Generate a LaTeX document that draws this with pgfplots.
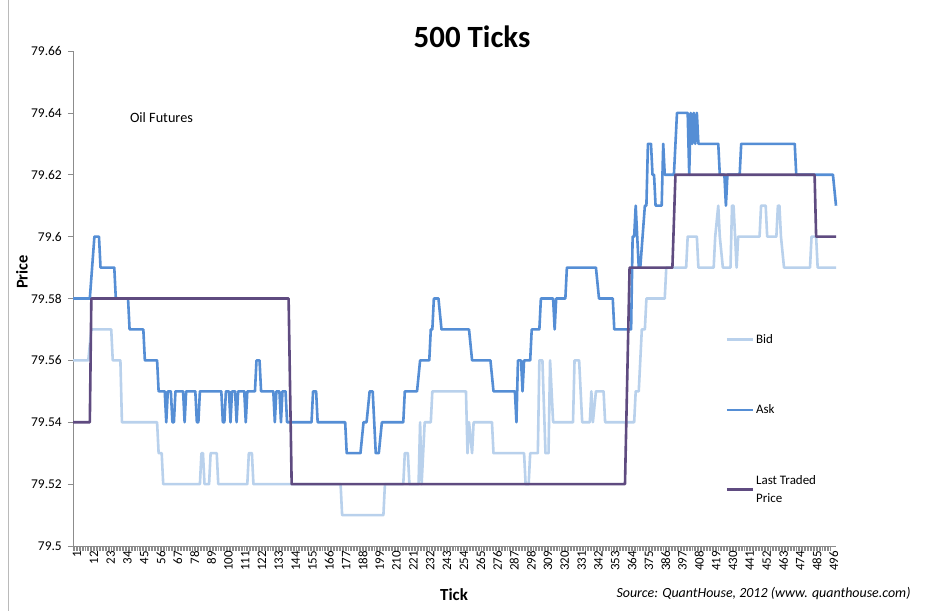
\documentclass[border=0pt]{standalone}
\usepackage{pgfplots}
\pgfplotsset{compat=1.18}
\usepackage{fontspec}
\setmainfont{Carlito}
\definecolor{bidc}{HTML}{B9D1EC}
\definecolor{askc}{HTML}{558ED5}
\definecolor{lastc}{HTML}{5F4B80}
\definecolor{axc}{HTML}{8C8C8C}

\pgfplotstableread{
x y
1 79.56
11 79.56
13 79.57
26 79.57
27 79.56
32 79.56
33 79.54
56 79.54
57 79.53
59 79.53
60 79.52
84 79.52
85 79.53
86 79.53
87 79.52
90 79.52
91 79.53
95 79.53
96 79.52
115 79.52
116 79.53
118 79.53
119 79.52
176 79.52
177 79.51
204 79.51
205 79.52
217 79.52
218 79.53
220 79.53
221 79.52
227 79.52
228 79.54
229 79.52
231 79.54
235 79.54
236 79.55
258 79.55
259 79.53
260 79.54
262 79.53
263 79.54
275 79.54
276 79.53
296 79.53
297 79.52
299 79.52
300 79.53
305 79.53
306 79.56
308 79.56
310 79.53
312 79.53
313 79.56
315 79.54
328 79.54
329 79.56
332 79.56
334 79.54
339 79.54
340 79.55
341 79.54
343 79.55
348 79.55
349 79.54
368 79.54
369 79.55
371 79.55
373 79.57
375 79.57
376 79.58
388 79.58
389 79.59
402 79.59
403 79.60
409 79.60
410 79.59
420 79.59
421 79.60
423 79.61
424 79.60
426 79.59
431 79.59
432 79.61
433 79.61
435 79.59
436 79.60
450 79.60
451 79.61
454 79.61
455 79.60
461 79.60
462 79.61
463 79.61
464 79.60
466 79.59
483 79.59
484 79.60
487 79.60
488 79.59
500 79.59
}\bidtable

\pgfplotstableread{
x y
1 79.58
12 79.58
15 79.60
18 79.60
19 79.59
28 79.59
29 79.58
37 79.58
38 79.57
47 79.57
48 79.56
56 79.56
57 79.55
61 79.55
62 79.54
63 79.55
65 79.55
66 79.54
67 79.54
68 79.55
73 79.55
74 79.54
75 79.55
81 79.55
82 79.54
83 79.54
84 79.55
98 79.55
99 79.54
100 79.54
101 79.55
103 79.55
104 79.54
105 79.55
107 79.55
108 79.54
109 79.55
113 79.55
114 79.54
115 79.55
120 79.55
121 79.56
123 79.56
124 79.55
132 79.55
133 79.54
134 79.55
136 79.55
137 79.54
138 79.55
140 79.55
141 79.54
157 79.54
158 79.55
160 79.55
161 79.54
179 79.54
180 79.53
189 79.53
191 79.54
193 79.54
195 79.55
197 79.55
199 79.53
201 79.53
203 79.54
217 79.54
218 79.55
226 79.55
228 79.56
234 79.56
235 79.57
236 79.57
237 79.58
240 79.58
242 79.57
260 79.57
262 79.56
274 79.56
276 79.55
290 79.55
291 79.54
292 79.56
294 79.56
295 79.55
296 79.56
300 79.56
301 79.57
306 79.57
307 79.58
315 79.58
316 79.57
317 79.58
323 79.58
324 79.59
343 79.59
345 79.58
354 79.58
355 79.57
366 79.57
367 79.60
368 79.60
369 79.61
371 79.59
372 79.59
375 79.61
376 79.61
377 79.63
379 79.63
380 79.62
381 79.62
382 79.61
386 79.61
387 79.63
388 79.62
394 79.62
396 79.64
403 79.64
404 79.62
405 79.64
406 79.63
407 79.64
408 79.63
409 79.64
410 79.63
423 79.63
424 79.62
427 79.62
428 79.61
429 79.62
437 79.62
438 79.63
473 79.63
474 79.62
498 79.62
500 79.61
}\asktable

\pgfplotstableread{
x y
1 79.54
12 79.54
13 79.58
142 79.58
144 79.52
362 79.52
365 79.59
393 79.59
395 79.62
486 79.62
487 79.60
500 79.60
}\lasttable

\begin{document}
\begin{tikzpicture}
\useasboundingbox (0,0) rectangle (928bp,611bp);
\fill[white] (0,0) rectangle (928bp,611bp);
\draw[axc!60, line width=0.8bp] (8bp,0) -- (8bp,611bp);
\begin{axis}[
  at={(73bp,65bp)}, anchor=south west,
  scale only axis, width=763bp, height=495bp,
  xmin=1, xmax=500, ymin=79.5, ymax=79.66,
  axis lines*=left,
  axis line style={axc, line width=0.9bp},
  xtick={1,12,...,496}, minor x tick num=10,
  ytick={79.5,79.52,79.54,79.56,79.58,79.6,79.62,79.64,79.66},
  tick align=outside,
  major tick length=5bp, minor tick length=5bp,
  every tick/.style={axc, line width=0.5bp},
  xticklabel style={rotate=90, anchor=east, inner sep=0pt, yshift=-4bp, font=\fontsize{13}{13}\selectfont},
  yticklabel style={anchor=east, inner sep=0pt, xshift=-6bp, font=\fontsize{13.5}{13.5}\selectfont},
  /pgf/number format/.cd, fixed, precision=2, assume math mode=true,
  /pgfplots/.cd,
  legend cell align=left,
  legend style={at={(0.855,0.432)}, anchor=north west, draw=none, fill=none,
    font=\fontsize{13}{18}\selectfont, row sep=56bp, column sep=0bp,
    inner sep=0pt},
  legend image code/.code={\draw[#1] (0bp,0bp) -- (26bp,0bp);},
  clip=false,
]
\addplot[bidc, line width=2.6bp, line join=round] table[x=x,y=y] {\bidtable};
\addlegendentry{Bid}
\addplot[askc, line width=2.6bp, line join=round] table[x=x,y=y] {\asktable};
\addlegendentry{Ask}
\addplot[lastc, line width=2.6bp, line join=round] table[x=x,y=y] {\lasttable};
\addlegendentry[align=left]{Last Traded\\Price}
\node[anchor=base west, font=\fontsize{14.3}{14.3}\selectfont] at (axis cs:36,79.637) {Oil Futures};
\end{axis}
\node[font=\bfseries\fontsize{31}{31}\selectfont] at (472bp,574bp) {500 Ticks};
\node[font=\bfseries\fontsize{16.5}{16.5}\selectfont, rotate=90] at (22bp,339bp) {Price};
\node[font=\bfseries\fontsize{17}{17}\selectfont] at (454bp,16bp) {Tick};
\node[anchor=east, font=\itshape\fontsize{14}{14}\selectfont] at (914bp,17bp) {Source: QuantHouse, 2012 (www. quanthouse.com)};
\end{tikzpicture}
\end{document}
